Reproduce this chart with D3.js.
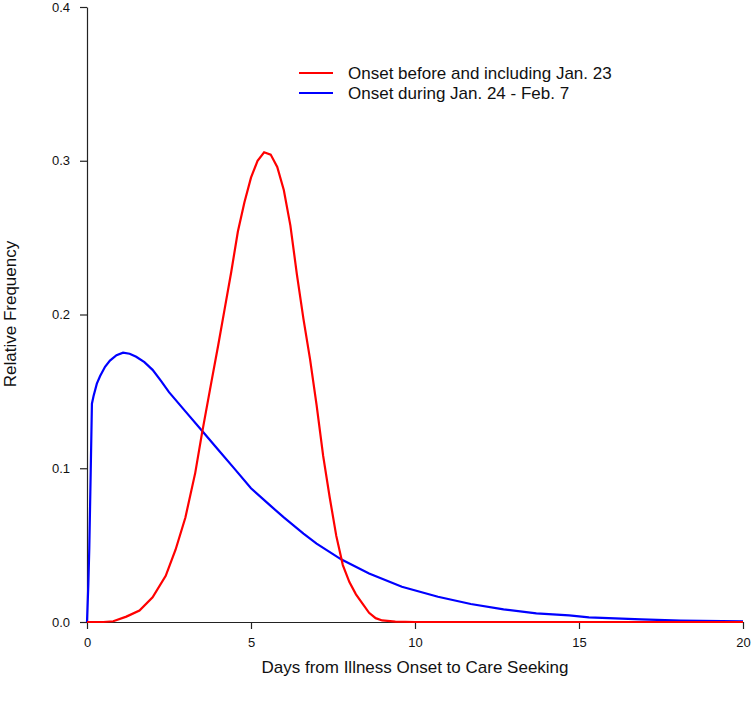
<!DOCTYPE html>
<html lang="en">
<head>
  <title>Onset to care seeking</title>
  <meta charset="utf-8"/>
  <script src="https://d3js.org/d3.v7.min.js"></script>
  <style>
    body { margin: 0; background: #fff; }
    .tick text { font-size: 13px; font-family: "Liberation Sans", Arial, sans-serif; fill: #111; }
    .titulo { font-size: 17px; font-family: "Liberation Sans", Arial, sans-serif; fill: #111; }
  </style>
</head>
<body>
<svg id="chart" width="752" height="708"></svg>

<script type="text/javascript">
  // red curve: onset before and including Jan. 23
  const redDays = [0, 0.5, 0.8, 1.2, 1.6, 2.0, 2.4, 2.7, 3.0, 3.3, 3.5, 3.8, 4.0, 4.2, 4.4, 4.6, 4.8, 5.0, 5.2, 5.4,
    5.6, 5.8, 6.0, 6.2, 6.4, 6.6, 6.8, 7.0, 7.2, 7.4, 7.6, 7.8, 8.0, 8.2, 8.4, 8.6, 8.8, 9.0, 9.4, 10, 20];
  const redFreq = [0, 0, 0.0005, 0.0035, 0.0075, 0.016, 0.03, 0.047, 0.068, 0.097, 0.122, 0.157, 0.18, 0.204, 0.228, 0.254, 0.273, 0.289, 0.300, 0.3055,
    0.304, 0.296, 0.281, 0.258, 0.226, 0.197, 0.171, 0.141, 0.108, 0.081, 0.056, 0.037, 0.026, 0.018, 0.012, 0.006, 0.0025, 0.001, 0.0003, 0, 0];

  // blue curve: onset during Jan. 24 - Feb. 7
  const blueDays = [0, 0.04, 0.07, 0.11, 0.15, 0.2, 0.3, 0.4, 0.55, 0.7, 0.9, 1.1, 1.3, 1.5, 1.75, 2.0, 2.25, 2.5, 3.0, 3.5, 4.0, 4.5, 5.0, 5.6, 6.0, 6.6,
    7.0, 7.76, 8.6, 9.6, 10.7, 11.7, 12.7, 13.7, 14.7, 15.3, 16.9, 18.1, 20];
  const blueFreq = [0, 0.024, 0.048, 0.094, 0.142, 0.147, 0.155, 0.160, 0.166, 0.170, 0.1735, 0.1752, 0.1745, 0.1725, 0.169, 0.164, 0.157, 0.1495, 0.137, 0.1245, 0.112, 0.0996, 0.087, 0.0755, 0.068, 0.0575,
    0.051, 0.0406, 0.0316, 0.0229, 0.0164, 0.0117, 0.0082, 0.0056, 0.0043, 0.003, 0.0017, 0.0009, 0.0005];

  const xTicks = [0, 5, 10, 15, 20];
  const yTicks = [0, 0.1, 0.2, 0.3, 0.4];
  const legendLabels = ["Onset before and including Jan. 23", "Onset during Jan. 24 - Feb. 7"];
  const colores = ["#ff0000", "#0000ff"];

  let svg = d3.select("#chart");

  let x = d3.scaleLinear().domain([0, 20]).range([87, 743]);
  let y = d3.scaleLinear().domain([0, 0.4]).range([622, 7]);

  // axes, R style (only the two axis lines, no box)
  svg.append("g")
          .attr("transform", "translate(0,622)")
          .call(d3.axisBottom(x).tickValues(xTicks).tickSize(7).tickSizeOuter(0).tickPadding(9).tickFormat(d3.format("d")));
  svg.append("g")
          .attr("transform", "translate(87,0)")
          .call(d3.axisLeft(y).tickValues(yTicks).tickSize(7).tickSizeOuter(0).tickPadding(10).tickFormat(d3.format(".1f")));
  svg.selectAll(".domain, .tick line").attr("stroke", "#222").attr("stroke-width", 1.2);

  let line = d3.line()
          .x(d => x(d[0]))
          .y(d => y(d[1]));

  // blue first so red sits on top like the original
  svg.append("path")
          .datum(d3.zip(blueDays, blueFreq))
          .attr("d", line)
          .attr("fill", "none")
          .attr("stroke", colores[1])
          .attr("stroke-width", 2.2);

  svg.append("path")
          .datum(d3.zip(redDays, redFreq))
          .attr("d", line)
          .attr("fill", "none")
          .attr("stroke", colores[0])
          .attr("stroke-width", 2.2);

  // axis titles
  svg.append("text")
          .attr("class", "titulo")
          .attr("text-anchor", "middle")
          .attr("x", 415)
          .attr("y", 673)
          .text("Days from Illness Onset to Care Seeking");

  svg.append("text")
          .attr("class", "titulo")
          .attr("text-anchor", "middle")
          .attr("transform", "translate(16,314) rotate(-90)")
          .text("Relative Frequency");

  // legend
  let legend = svg.append("g").attr("transform", "translate(299,73)");
  legendLabels.forEach(function(lab, i) {
    legend.append("line")
            .attr("x1", 0).attr("x2", 34)
            .attr("y1", i * 20).attr("y2", i * 20)
            .attr("stroke", colores[i])
            .attr("stroke-width", 2);
    legend.append("text")
            .attr("class", "titulo")
            .attr("x", 49)
            .attr("y", i * 20 + 6)
            .text(lab);
  });
</script>
</body>
</html>
